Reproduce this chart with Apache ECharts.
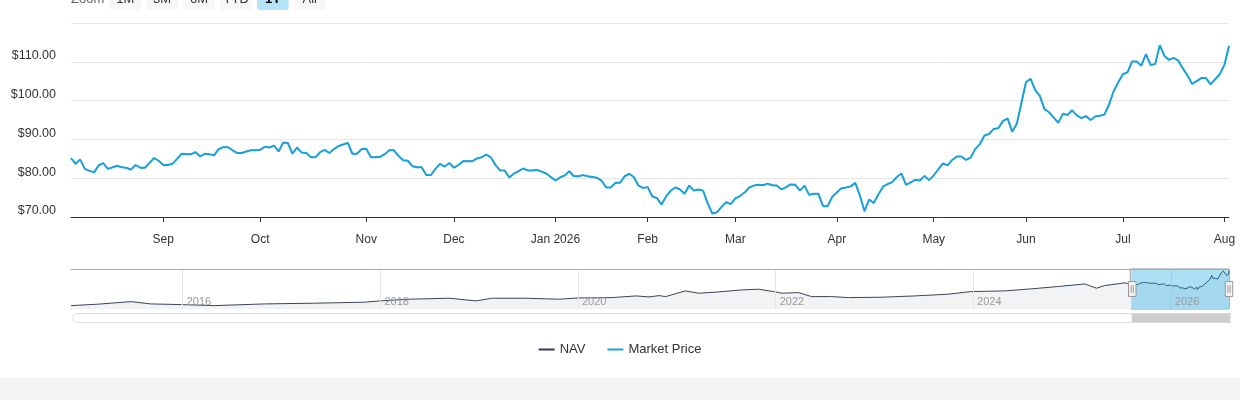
<!DOCTYPE html>
<html><head><meta charset="utf-8">
<script src="https://cdn.jsdelivr.net/npm/echarts@6/dist/echarts.min.js"></script>
<style>
html,body{margin:0;padding:0;background:#f4f4f4;}
#chart{width:1240px;height:378px;background:#ffffff;}
</style></head><body>
<div id="chart"></div>
<script>
// ---------- data ----------
const firstTradingDay = '2025-08-04';
const lastTradingDay = '2026-08-04';
const marketHolidays = ['2025-09-01','2025-11-27','2025-12-25','2026-01-01','2026-01-19','2026-02-16','2026-04-03','2026-05-25','2026-06-19','2026-07-03'];

const marketPrice = [
85.2,83.7,84.8,82.4,81.9,81.5,83.3,83.9,82.4,82.8,
83.2,82.8,82.7,82.2,83.4,82.7,82.7,83.9,85.2,84.5,
83.4,83.4,83.7,85.0,86.3,86.2,86.2,86.7,85.6,86.3,
86.2,85.9,87.5,88.0,88.0,87.2,86.5,86.5,86.9,87.2,
87.2,87.3,88.1,87.9,88.4,86.9,89.2,89.1,86.3,87.9,
86.6,86.5,85.4,85.4,86.7,87.3,86.5,87.5,88.3,88.7,
89.1,86.3,86.3,87.5,87.6,85.4,85.4,85.5,86.2,87.2,
87.2,85.7,
84.6,84.5,83.1,82.8,82.8,80.8,80.8,82.4,83.7,83.0,
83.9,82.7,83.4,84.4,84.4,84.4,85.1,85.4,86.1,85.4,
83.4,82.0,82.0,80.2,81.2,81.8,82.5,82.0,82.0,82.1,
81.7,81.2,80.3,79.4,80.2,80.7,81.8,80.5,80.5,80.8,
80.5,80.3,80.1,79.4,77.6,77.6,78.8,78.8,80.5,81.1,
80.3,78.1,77.5,77.7,75.3,74.9,73.2,75.3,76.8,77.6,
77.1,76.0,78.1,76.8,77.1,76.8,73.6,70.9,71.2,72.6,
73.8,73.3,74.8,75.4,76.3,77.6,78.1,78.3,78.2,78.6,
78.2,78.1,77.1,77.7,78.4,78.3,76.8,78.1,75.7,76.0,
76.0,72.8,72.8,75.2,76.3,77.4,
77.6,77.9,78.8,75.5,71.5,74.5,73.6,75.8,77.8,78.5,
79.0,80.3,81.2,78.3,78.9,79.6,79.4,80.6,79.5,80.7,
82.3,83.8,83.3,84.7,85.6,85.6,84.7,85.3,87.5,88.8,
91.0,91.4,92.7,92.9,94.7,95.4,92.0,94.0,99.3,104.8,
105.6,102.7,101.2,97.8,97.0,95.6,94.3,96.6,96.3,97.5,
96.2,95.5,96.0,95.0,95.9,96.1,96.4,99.0,102.4,104.7,
106.8,107.3,110.1,110.1,109.0,112.0,109.2,109.4,114.3,111.5,
110.5,111.0,110.3,108.3,106.5,104.3,105.0,105.8,105.8,104.2,
105.5,106.8,109.2,114.1
];
// NAV is drawn underneath and coincides with the market price in the view
const navPrice = marketPrice;

const navHistoryDates = ['2014-11-14','2015-02-20','2015-06-25','2015-09-05','2015-12-28','2016-04-28','2016-10-30','2017-05-01','2017-11-02','2017-12-28','2018-04-17','2018-09-12','2018-12-20','2019-02-18','2019-06-21','2019-10-22','2020-01-05','2020-05-06','2020-08-03','2020-09-20','2020-10-27','2020-11-20','2021-02-01','2021-03-22','2021-05-22','2021-08-28','2021-10-30','2021-12-25','2022-01-24','2022-03-26','2022-05-14','2022-07-27','2022-09-27','2023-01-29','2023-05-30','2023-09-30','2023-12-24','2024-04-25','2024-08-01','2024-11-08','2025-02-17','2025-04-01','2025-05-01','2025-07-13'];
const navHistoryValues = [34.8,38.0,44.0,38.7,37.1,34.8,38.7,40.3,42.6,45.6,49.5,51.8,45.6,51.8,51.8,49.5,52.5,53.2,57.1,54.8,57.8,55.5,68.6,63.3,65.6,70.9,72.5,67.0,63.3,64.7,55.5,55.5,53.2,54.1,57.1,61.0,67.0,68.6,73.2,78.5,84.7,74.8,80.8,87.0];

const navigatorYears = ['2016','2018','2020','2022','2024','2026'];
const rangeButtons = ['1M','3M','6M','YTD','1Y','All'];
const selectedRange = '1Y';
const monthNames = ['Jan','Feb','Mar','Apr','May','Jun','Jul','Aug','Sep','Oct','Nov','Dec'];
const yTicks = {min: 70, max: 120, step: 10};

// ---------- helpers ----------
function ymd(d){return d.getFullYear()+'-'+String(d.getMonth()+1).padStart(2,'0')+'-'+String(d.getDate()).padStart(2,'0');}
function parseDay(s){const p=s.split('-');return new Date(+p[0],+p[1]-1,+p[2]);}

const tradingDays = [];
for (let d = parseDay(firstTradingDay); ymd(d) <= lastTradingDay; d.setDate(d.getDate()+1)) {
  const wd = d.getDay(), s = ymd(d);
  if (wd !== 0 && wd !== 6 && marketHolidays.indexOf(s) < 0) tradingDays.push(s);
}
const n = Math.min(tradingDays.length, marketPrice.length);
const days = tradingDays.slice(0, n);
const isMonthStart = i => i > 0 && days[i].slice(0,7) !== days[i-1].slice(0,7);

const navStart = parseDay(navHistoryDates[0]).getTime();
const navEnd = parseDay(days[n-1]).getTime();
const selStart = parseDay(days[0]).getTime();
const navigatorData = navHistoryDates.map((d,i)=>[parseDay(d).getTime(), navHistoryValues[i]])
  .concat(days.map((d,i)=>[parseDay(d).getTime(), navPrice[i]]));
const yearTicks = navigatorYears.map(y => new Date(+y,0,1).getTime());

const FONT = '"Liberation Sans", Arial, Helvetica, sans-serif';

// zoom buttons (UI decoration)
const graphics = [{type:'text', x:71, y:-1, style:{text:'Zoom', fill:'#666666', font:'13px '+FONT, verticalAlign:'middle', align:'left'}}];
rangeButtons.forEach((b,i)=>{
  const x0 = 109.5 + i*36.9, sel = b === selectedRange;
  graphics.push({type:'rect', shape:{x:x0, y:-12, width:31.5, height:22, r:2}, style:{fill: sel ? '#b5e3f7' : '#f7f7f7'}});
  graphics.push({type:'text', x:x0+15.75, y:-1, style:{text:b, fill: sel ? '#000000' : '#333333', font:(sel?'bold ':'')+'13px '+FONT, align:'center', verticalAlign:'middle'}});
});

const chart = echarts.init(document.getElementById('chart'));
chart.setOption({
  animation: false,
  textStyle: {fontFamily: FONT},
  graphic: graphics,
  legend: {
    data: ['NAV','Market Price'], left: 'center', top: 338,
    icon: 'rect', itemWidth: 16, itemHeight: 2, itemGap: 22,
    textStyle: {fontSize: 13, color: '#333333', fontFamily: FONT}
  },
  grid: [
    {left: 71, right: 11, top: 23, height: 194},
    {left: 71, right: 11, top: 269, height: 40}
  ],
  xAxis: [
    {
      type: 'category', gridIndex: 0, data: days, boundaryGap: false,
      axisLine: {lineStyle: {color: '#333333', width: 1}},
      axisTick: {length: 5, interval: i => isMonthStart(i), lineStyle: {color: '#333333'}},
      axisLabel: {
        interval: i => isMonthStart(i), margin: 17, lineHeight: 12,
        color: '#333333', fontSize: 12, fontFamily: FONT,
        formatter: v => { const m = +v.slice(5,7); return m === 1 ? 'Jan ' + v.slice(0,4) : monthNames[m-1]; }
      },
      splitLine: {show: false}
    },
    {
      type: 'value', gridIndex: 1, min: navStart, max: navEnd, z: 4,
      axisLine: {show: false},
      axisTick: {show: false, customValues: yearTicks},
      axisLabel: {
        customValues: yearTicks, inside: true, margin: 2, align: 'left', padding: [0,0,0,4],
        color: '#999999', fontSize: 11, fontFamily: FONT,
        formatter: v => String(new Date(v).getFullYear())
      },
      splitLine: {show: true, lineStyle: {color: '#e6e6e6', width: 1}}
    },
    {
      type: 'value', gridIndex: 1, position: 'top', min: navStart, max: navEnd, z: 4,
      axisLine: {show: true, lineStyle: {color: '#aaaaaa', width: 1}},
      axisTick: {show: false}, axisLabel: {show: false}, splitLine: {show: false}
    }
  ],
  yAxis: [
    {
      type: 'value', gridIndex: 0, min: yTicks.min, max: yTicks.max, interval: yTicks.step,
      axisLine: {show: false}, axisTick: {show: false},
      axisLabel: {
        showMaxLabel: false, margin: 15, verticalAlign: 'bottom', lineHeight: 12,
        color: '#333333', fontSize: 12.5, fontFamily: FONT,
        formatter: v => '$' + v.toFixed(2)
      },
      splitLine: {lineStyle: {color: '#e6e6e6', width: 1}}
    },
    {type: 'value', gridIndex: 1, min: 27, max: 119, show: false, splitLine: {show: false}},
    {type: 'value', gridIndex: 1, min: 0, max: 1, show: false, splitLine: {show: false}}
  ],
  dataZoom: [
    {
      type: 'slider', xAxisIndex: 2, filterMode: 'none',
      left: 71, right: 11, top: 269, height: 40,
      startValue: selStart, endValue: navEnd,
      showDataShadow: false, showDetail: false, brushSelect: false,
      backgroundColor: 'rgba(0,0,0,0)', borderColor: 'rgba(0,0,0,0)',
      fillerColor: 'rgba(0,160,225,0.32)',
      handleIcon: 'path://M0.5,0.5H7.5V14.5H0.5Z M3,4V11 M5,4V11',
      handleSize: 15,
      handleStyle: {color: '#f2f2f2', borderColor: '#999999', borderWidth: 1},
      moveHandleSize: 0, moveHandleStyle: {opacity: 0},
      emphasis: {handleStyle: {color: '#f2f2f2', borderColor: '#999999'}, moveHandleStyle: {opacity: 0}}
    },
    {
      type: 'slider', xAxisIndex: 2, filterMode: 'none',
      left: 71, right: 11, top: 313, height: 10,
      startValue: selStart, endValue: navEnd,
      showDataShadow: false, showDetail: false, brushSelect: false,
      backgroundColor: '#ffffff', borderColor: '#dddddd', borderRadius: 5,
      fillerColor: '#cccccc',
      handleIcon: 'path://M0,0H1V1H0Z', handleSize: 1, handleStyle: {opacity: 0},
      moveHandleSize: 0, moveHandleStyle: {opacity: 0},
      emphasis: {handleStyle: {opacity: 0}, moveHandleStyle: {opacity: 0}}
    }
  ],
  series: [
    {
      name: 'NAV', type: 'line', xAxisIndex: 0, yAxisIndex: 0, data: navPrice,
      color: '#2f3b4c', showSymbol: false, symbol: 'none', z: 2,
      lineStyle: {color: '#2f3b4c', width: 1}
    },
    {
      name: 'Market Price', type: 'line', xAxisIndex: 0, yAxisIndex: 0, data: marketPrice,
      color: '#1aa1dc', showSymbol: false, symbol: 'none', z: 3,
      lineStyle: {color: '#1aa1dc', width: 2}
    },
    {
      name: 'navigatorNAV', type: 'line', xAxisIndex: 1, yAxisIndex: 1, data: navigatorData,
      showSymbol: false, symbol: 'none', silent: true,
      lineStyle: {color: '#3a4555', width: 1}, areaStyle: {color: '#f2f3f5', opacity: 1},
      markArea: {
        silent: true,
        itemStyle: {color: 'rgba(0,0,0,0)', borderColor: '#9a9a9a', borderWidth: 1},
        data: [[{xAxis: selStart}, {xAxis: navEnd}]]
      }
    },
    {
      name: 'navigatorWindow', type: 'line', xAxisIndex: 2, yAxisIndex: 2,
      data: [[navStart, 0.5], [navEnd, 0.5]], showSymbol: false, symbol: 'none', silent: true,
      lineStyle: {opacity: 0}
    }
  ]
});
</script>
</body></html>
